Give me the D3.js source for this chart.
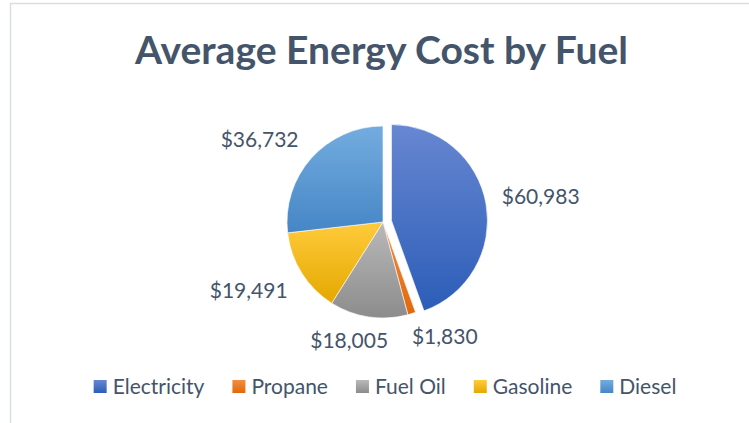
<!DOCTYPE html>
<html>
<head>
<meta charset="utf-8">
<script src="https://cdn.jsdelivr.net/npm/d3@7"></script>
<style>
  html, body { margin: 0; padding: 0; background: #ffffff; }
  svg { display: block; }
</style>
</head>
<body>
<svg id="chart" width="749" height="423"></svg>
<script>
// ---- data ----
const title = "Average Energy Cost by Fuel";
const categories = ["Electricity", "Propane", "Fuel Oil", "Gasoline", "Diesel"];
const values = [60983, 1830, 18005, 19491, 36732];
const explodedCategory = "Electricity";

// ---- style ----
const W = 749, H = 423;
const FONT = "Lato, 'Open Sans', sans-serif";
const TEXT_COLOR = "#44546a";
const topColors    = ["#6787d1", "#f48d40", "#b9b9b9", "#ffcb3c", "#73acdf"];
const bottomColors = ["#2c5db8", "#e0680c", "#8c8c8c", "#e5a800", "#4686c6"];
const cx = 383, cy = 222, R = 96, explodeDist = 8.6, labelGap = 12;

const svg = d3.select("#chart");

// gradients
const defs = svg.append("defs");
categories.forEach((c, i) => {
  const g = defs.append("linearGradient")
    .attr("id", "grad" + i)
    .attr("x1", 0).attr("y1", 0).attr("x2", 0).attr("y2", 1);
  g.append("stop").attr("offset", "0%").attr("stop-color", topColors[i]);
  g.append("stop").attr("offset", "100%").attr("stop-color", bottomColors[i]);
});

// chart area border
svg.append("rect")
  .attr("x", 10.5).attr("y", 3.5)
  .attr("width", W + 20).attr("height", H + 20)
  .attr("fill", "#ffffff")
  .attr("stroke", "#d9dee6").attr("stroke-width", 1.5);

// title
svg.append("text")
  .attr("x", 381.5).attr("y", 63.5)
  .attr("text-anchor", "middle")
  .attr("font-family", FONT).attr("font-weight", 700)
  .attr("font-size", 38)
  .attr("fill", TEXT_COLOR)
  .attr("textLength", 493).attr("lengthAdjust", "spacingAndGlyphs")
  .text(title);

// pie
const pie = d3.pie().sort(null).value(d => d.value);
const arcs = pie(categories.map((c, i) => ({ name: c, value: values[i], i })));
const arc = d3.arc().innerRadius(0).outerRadius(R);
const fmt = d3.format(",");

const g = svg.append("g");
arcs.forEach(a => {
  const mid = (a.startAngle + a.endAngle) / 2;
  const off = a.data.name === explodedCategory ? explodeDist : 0;
  const ox = cx + off * Math.sin(mid), oy = cy - off * Math.cos(mid);
  a.ox = ox; a.oy = oy; a.mid = mid;
  g.append("path")
    .attr("transform", `translate(${ox},${oy})`)
    .attr("d", arc(a))
    .attr("fill", `url(#grad${a.data.i})`)
    .attr("stroke", "#ffffff").attr("stroke-width", 0.6);
});

// data labels (outside end)
const LABEL_SIZE = 21;
const clamp = (v, lo, hi) => Math.max(lo, Math.min(hi, v));
arcs.forEach(a => {
  const t = svg.append("text")
    .attr("font-family", FONT).attr("font-size", LABEL_SIZE)
    .attr("fill", TEXT_COLOR)
    .attr("text-anchor", "middle")
    .text("$" + fmt(a.data.value));
  const w = t.node().getComputedTextLength();
  const hw = w / 2, hh = 9;
  const s = Math.sin(a.mid), c = Math.cos(a.mid);
  const rx = a.ox + (R + labelGap) * s, ry = a.oy - (R + labelGap) * c;
  const fx = clamp(s * 3, -1.1, 1.1);
  const fy = clamp(c * 3.3, -1.25, 1.15);
  const lx = rx + hw * fx, ly = ry - hh * fy;
  t.attr("x", lx).attr("y", ly + 0.36 * LABEL_SIZE);
});

// legend
const legend = svg.append("g");
const LEG_SIZE = 21, SQ = 13, SQ_GAP = 6, ITEM_GAP = 28;
let x = 0;
categories.forEach((c, i) => {
  const it = legend.append("g");
  it.append("rect").attr("width", SQ).attr("height", SQ)
    .attr("y", -SQ / 2).attr("fill", `url(#grad${i})`);
  const t = it.append("text")
    .attr("x", SQ + SQ_GAP).attr("y", 0.36 * LEG_SIZE)
    .attr("font-family", FONT).attr("font-size", LEG_SIZE)
    .attr("fill", TEXT_COLOR).text(c);
  const w = t.node().getComputedTextLength();
  it.attr("transform", `translate(${x},0)`);
  x += SQ + SQ_GAP + w + ITEM_GAP;
});
const total = x - ITEM_GAP;
legend.attr("transform", `translate(${385 - total / 2},386.5)`);
</script>
</body>
</html>
